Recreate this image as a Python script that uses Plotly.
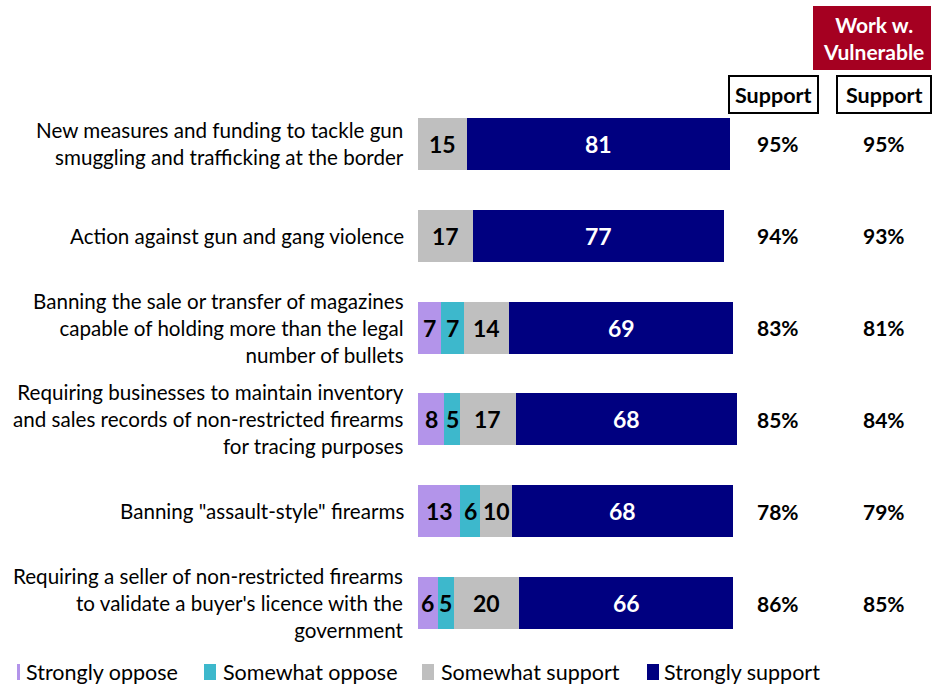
import plotly.graph_objects as go

W, H = 935, 687

categories = [
    "New measures and funding to tackle gun<br>smuggling and trafficking at the border",
    "Action against gun and gang violence",
    "Banning the sale or transfer of magazines<br>capable of holding more than the legal<br>number of bullets",
    "Requiring businesses to maintain inventory<br>and sales records of non-restricted firearms<br>for tracing purposes",
    "Banning \"assault-style\" firearms",
    "Requiring a seller of non-restricted firearms<br>to validate a buyer's licence with the<br>government",
]
strongly_oppose = [0, 0, 7, 8, 13, 6]
somewhat_oppose = [0, 0, 7, 5, 6, 5]
somewhat_support = [15, 17, 14, 17, 10, 20]
strongly_support = [81, 77, 69, 68, 68, 66]
support_total = [95, 94, 83, 85, 78, 86]
support_vulnerable = [95, 93, 81, 84, 79, 85]

series_names = ["Strongly oppose", "Somewhat oppose", "Somewhat support", "Strongly support"]
series_values = [strongly_oppose, somewhat_oppose, somewhat_support, strongly_support]
colors = ["#B394EA", "#3DB8CC", "#BFBFBF", "#000080"]
label_colors = ["black", "black", "black", "white"]

FONT = "Lato"

def px_x(p):
    return p / W

def px_y(p):
    return 1 - p / H

ypos = list(range(len(categories)))

fig = go.Figure()
for name, vals, col in zip(series_names, series_values, colors):
    fig.add_trace(go.Bar(
        y=ypos, x=vals, name=name, orientation="h",
        marker=dict(color=col, line=dict(width=0)),
        width=0.565, textposition="none", hoverinfo="x+name",
        showlegend=False,
    ))

annotations = []

def note(x, y, text, size, color="black", xref="paper", yref="paper",
         xanchor="center", align="center"):
    annotations.append(dict(
        x=x, y=y, xref=xref, yref=yref, text=text, showarrow=False,
        xanchor=xanchor, yanchor="middle", align=align,
        font=dict(family=FONT, size=size, color=color),
    ))

# segment value labels
for i in ypos:
    left = 0
    for vals, lc in zip(series_values, label_colors):
        v = vals[i]
        if v:
            note(left + v / 2, i, f"<b>{v}</b>", 23, lc, xref="x", yref="y")
        left += v

# category labels
for i, cat in enumerate(categories):
    note(px_x(406), i, cat, 20.6, yref="y", xanchor="right", align="right")

# support columns
for i in ypos:
    note(px_x(778), i, f"<b>{support_total[i]}%</b>", 21, yref="y")
    note(px_x(884), i, f"<b>{support_vulnerable[i]}%</b>", 21, yref="y")

shapes = []
# header boxes
shapes.append(dict(type="rect", xref="paper", yref="paper",
                   x0=px_x(813), x1=px_x(931), y0=px_y(70), y1=px_y(6),
                   fillcolor="#A50021", line=dict(width=0)))
note(px_x(873), px_y(38), "<b>Work w.<br>Vulnerable</b>", 21, "white")
for x0, x1 in [(729, 818), (837, 931)]:
    shapes.append(dict(type="rect", xref="paper", yref="paper",
                       x0=px_x(x0), x1=px_x(x1), y0=px_y(113), y1=px_y(76),
                       fillcolor="white", line=dict(color="black", width=2)))
    note(px_x((x0 + x1) / 2), px_y(95), "<b>Support</b>", 21.5)

# legend
legend_items = [
    (17, 20, 24),
    (204, 216, 221),
    (422, 434, 439),
    (647, 659, 662),
]
for (m0, m1, tx), name, col in zip(legend_items, series_names, colors):
    shapes.append(dict(type="rect", xref="paper", yref="paper",
                       x0=px_x(m0), x1=px_x(m1), y0=px_y(680), y1=px_y(664),
                       fillcolor=col, line=dict(width=0)))
    note(px_x(tx), px_y(672), name, 21.5, xanchor="left", align="left")

fig.update_layout(
    width=W, height=H, barmode="stack",
    margin=dict(l=0, r=0, t=0, b=0),
    paper_bgcolor="white", plot_bgcolor="white",
    xaxis=dict(domain=[px_x(418), px_x(743)], range=[0, 100], visible=False),
    yaxis=dict(domain=[px_y(649), px_y(98)], range=[5.5, -0.5], visible=False),
    annotations=annotations, shapes=shapes,
    bargap=0,
)

fig.write_html("out.html")
